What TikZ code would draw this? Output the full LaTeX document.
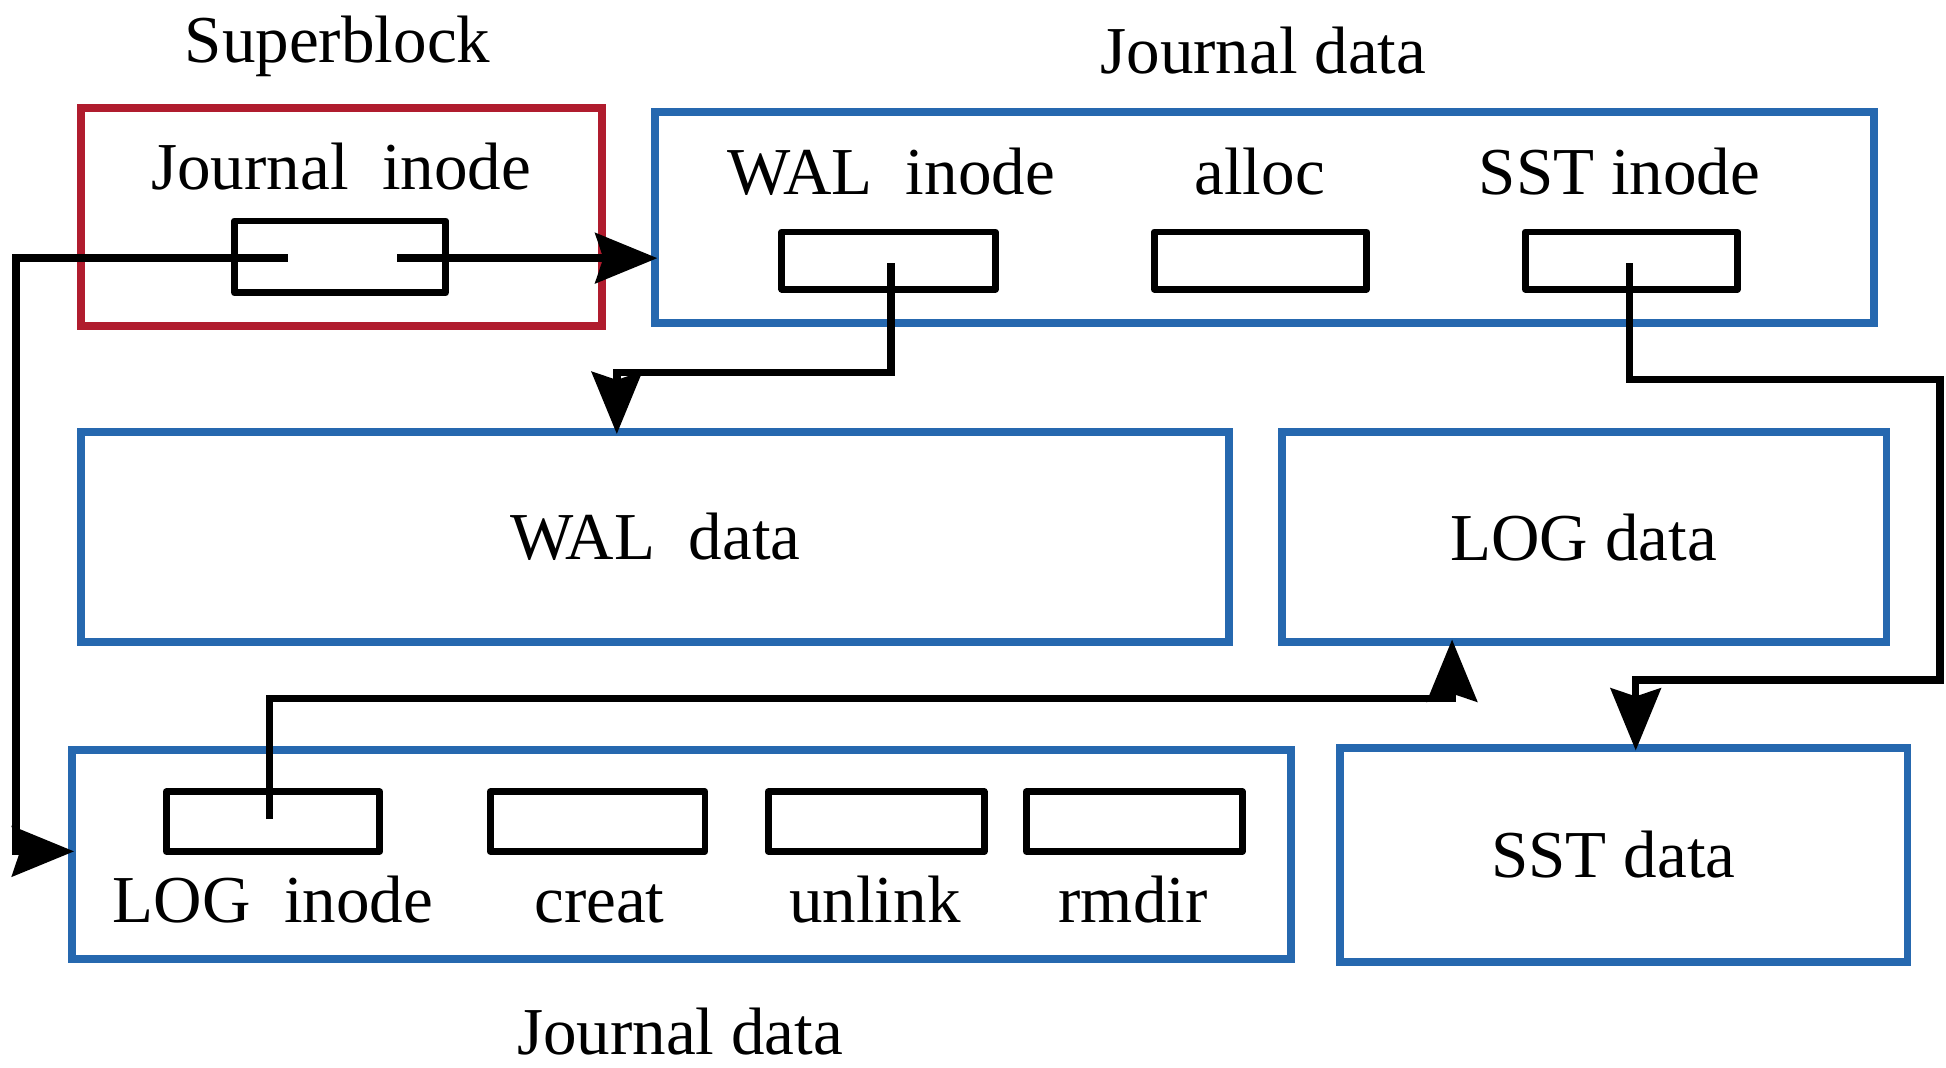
\documentclass[tikz,border=0pt]{standalone}
\usepackage{fontspec}
\setmainfont{Liberation Serif}
\usetikzlibrary{arrows.meta,fit}
\definecolor{fsblue}{RGB}{38,104,175}
\definecolor{fsred}{RGB}{176,28,46}
\begin{document}
\begin{tikzpicture}[x=0.62pt,y=-0.62pt,
  region/.style={draw=fsblue,line width=3.9pt,inner sep=0pt},
  sbregion/.style={draw=fsred,line width=3.9pt,inner sep=0pt},
  slot/.style={draw=black,line width=3.4pt,line join=round,inner sep=0pt},
  lbl/.style={font=\fontsize{33.5}{40}\selectfont,inner sep=0pt,anchor=base},
  wire/.style={line width=3.7pt},
  ptr/.style={wire,shorten >=-3pt,-{Stealth[length=31pt,width=25pt,inset=4pt]}}]
\useasboundingbox (0,0) rectangle (1568,860);

% superblock with the journal inode
\node[sbregion,fit={(65,87) (485,263)}] (sb) {};
\node[lbl] (sbtitle) at (272,50) {Superblock};
\node[lbl] (jilbl) at (275,153) {Journal\ \ inode};
\node[slot,fit={(189,178) (359,236)}] (jislot) {};

% journal data (upper part)
\node[region,fit={(528,90) (1510,260)}] (jtop) {};
\node[lbl] (jtoptitle) at (1018,59) {Journal data};
\node[lbl] (wallbl) at (718,157) {WAL\ \ inode};
\node[lbl] (alloclbl) at (1015,157) {alloc};
\node[lbl] (sstlbl) at (1305,157) {SST inode};
\node[slot,fit={(630,187) (802,233)}] (walslot) {};
\node[slot,fit={(930,187) (1101,233)}] (allocslot) {};
\node[slot,fit={(1229,187) (1400,233)}] (sstslot) {};

% data regions
\node[region,fit={(65,348) (990,517)}] (waldata) {};
\node[lbl] (waldatalbl) at (528,451) {WAL\ \ data};
\node[region,fit={(1033,348) (1520,517)}] (logdata) {};
\node[lbl] (logdatalbl) at (1276,452) {LOG data};
\node[region,fit={(1080,603) (1537,775)}] (sstdata) {};
\node[lbl] (sstdatalbl) at (1300,707) {SST data};

% journal data (lower part)
\node[region,fit={(58,604) (1040,773)}] (jbot) {};
\node[lbl] (jbottitle) at (548,850) {Journal data};
\node[slot,fit={(134,638) (306,686)}] (logslot) {};
\node[slot,fit={(395,638) (568,686)}] (creatslot) {};
\node[slot,fit={(619,638) (793,686)}] (unlinkslot) {};
\node[slot,fit={(827,638) (1001,686)}] (rmdirslot) {};
\node[lbl] (loglbl) at (220,743) {LOG\ \ inode};
\node[lbl] (creatlbl) at (483,743) {creat};
\node[lbl] (unlinklbl) at (705,743) {unlink};
\node[lbl] (rmdirlbl) at (913,743) {rmdir};

% pointer anchors inside the slots
\coordinate (jiL) at (232,208);
\coordinate (jiR) at (320,208);
\coordinate (walP) at (718,212);
\coordinate (sstP) at (1313,212);
\coordinate (logP) at (217,660);

% journal inode -> both journal regions
\draw[ptr] (jiR) -- (jiR -| jtop.west);
\draw[ptr] (jiL) -- (13,208) -- (13,686) -- (jbot.west |- 0,686);
% WAL inode -> WAL data
\draw[ptr] (walP) -- (718,300) -- (497,300) -- (waldata.north -| 497,0);
% SST inode -> SST data
\draw[ptr] (sstP) -- (1313,306) -- (1563,306) -- (1563,548) -- (1318,548) -- (sstdata.north -| 1318,0);
% LOG inode -> LOG data
\draw[ptr] (logP) -- (217,563) -- (1170,563) -- (logdata.south -| 1170,0);
\end{tikzpicture}
\end{document}
